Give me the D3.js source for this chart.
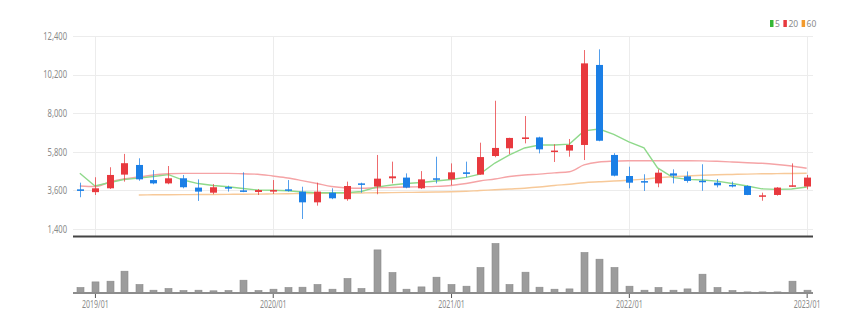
<!DOCTYPE html>
<html>
<head>
<meta charset="utf-8">
<script src="https://cdn.jsdelivr.net/npm/d3@7"></script>
<style>
  html, body { margin: 0; padding: 0; background: #fff; }
  svg { display: block; }
  text { font-family: "Noto Sans", "DejaVu Sans", sans-serif; fill: #8a8a8a; }
</style>
</head>
<body>
<svg id="chart" width="863" height="329"></svg>
<script>
// Monthly candles, 2018/12 .. 2023/01
const months = ["2018-12","2019-01","2019-02","2019-03","2019-04","2019-05","2019-06","2019-07","2019-08","2019-09","2019-10","2019-11",
  "2019-12","2020-01","2020-02","2020-03","2020-04","2020-05","2020-06","2020-07","2020-08","2020-09","2020-10","2020-11",
  "2020-12","2021-01","2021-02","2021-03","2021-04","2021-05","2021-06","2021-07","2021-08","2021-09","2021-10","2021-11",
  "2021-12","2022-01","2022-02","2022-03","2022-04","2022-05","2022-06","2022-07","2022-08","2022-09","2022-10","2022-11",
  "2022-12","2023-01"];
const open  = [3660,3500,3720,4500,5050,4190,4000,4290,3760,3470,3790,3600,3510,3530,3660,3530,2920,3470,3100,4000,3820,4290,4330,3720,
  4290,4230,4630,4500,5560,6000,6530,6620,5790,5870,6190,10750,5620,4420,4130,4000,4570,4400,4150,4040,3910,3850,3260,3340,3830,3820];
const high  = [4040,4350,4920,5680,5430,4760,4990,4480,4230,3960,3870,4630,3680,4190,4190,3810,4040,3720,4100,4040,5620,5240,4570,4700,
  5520,5140,5240,6320,8710,6600,7840,6660,6230,6530,11600,11640,5720,4950,4520,4800,4800,4680,5090,4250,4100,3890,3470,3790,5140,4480];
const low   = [3210,3340,3680,4100,4150,3950,3950,3720,3000,3380,3530,3500,3340,3400,3530,1970,2730,3100,3010,3470,3380,4000,3720,3680,
  4000,3890,4350,4490,5490,5670,6280,5710,5220,5520,5330,6400,4400,3720,3570,3780,4000,4040,3580,3770,3770,3330,3010,3300,3800,3660];
const close = [3570,3720,4480,5150,4230,4000,4290,3780,3530,3780,3700,3560,3620,3620,3580,2920,3530,3150,3850,3930,4270,4400,3760,4230,
  4230,4630,4540,5500,6020,6590,6620,5940,5870,6190,10840,6430,4440,4040,4060,4610,4440,4140,4100,3890,3850,3340,3320,3760,3890,4330];
const volume = [500,1060,1130,2130,800,230,400,200,230,170,200,1230,200,330,500,530,800,330,1400,400,4260,2000,330,560,
  1530,800,630,2500,4900,800,2030,530,330,360,4000,3330,2500,630,230,500,230,360,1830,500,200,60,60,60,1130,230];
const ma5  = [4574,3850,4050,4220,4300,4390,4500,4190,3990,3880,3810,3710,3620,3605,3580,3510,3470,3470,3470,3535,3790,3910,3990,4050,
  4135,4220,4340,4530,5160,5620,6020,6190,6190,6240,6990,7100,6790,6360,6020,4880,4340,4230,4190,4130,3990,3850,3690,3660,3680,3790];
const ma20 = [3850,3820,4080,4250,4360,4480,4545,4570,4570,4570,4570,4545,4520,4420,4310,4160,3990,3820,3740,3720,3750,3765,3790,3810,
  3830,3880,3990,4135,4250,4390,4480,4530,4600,4660,5050,5220,5265,5290,5290,5290,5290,5290,5285,5260,5220,5175,5145,5080,4990,4860];
const ma60 = [null,null,null,null,3340,3350,3355,3360,3365,3370,3375,3380,3390,3400,3410,3420,3430,3440,3445,3455,3465,3475,3485,3495,
  3505,3520,3550,3595,3635,3680,3725,3790,3880,3950,4040,4090,4135,4180,4240,4320,4380,4420,4460,4490,4510,4530,4545,4555,4565,4575];
const priceTicks = [1400,3600,5800,8000,10200,12400];
const yearTicks = ["2019-01","2020-01","2021-01","2022-01","2023-01"];
const legendItems = [{label:"5", color:"#35b835"},{label:"20", color:"#e8393e"},{label:"60", color:"#f39a2c"}];

const parseMonth = d3.timeParse("%Y-%m");
const fmtTick = d3.timeFormat("%Y/%m");
const dates = months.map(parseMonth);
const tickDates = yearTicks.map(parseMonth);

const svg = d3.select("#chart");
const left = 73, right = 813;
const x = d3.scaleTime()
  .domain([new Date(2018, 10, 17), new Date(2023, 0, 14)])
  .range([left, right]);
const y = d3.scaleLinear().domain([1400, 12400]).range([229, 36]);
const vy = d3.scaleLinear().domain([0, 5200]).range([292.5, 240.5]);

const UP = "#e8393e", DOWN = "#1b7fe6";

// squeeze text horizontally to a condensed look
function condense(sel, k) {
  sel.each(function () {
    const w = this.getComputedTextLength();
    d3.select(this).attr("textLength", w * k).attr("lengthAdjust", "spacingAndGlyphs");
  });
}

// horizontal grid
svg.append("g").selectAll("line").data(priceTicks).join("line")
  .attr("x1", left).attr("x2", right)
  .attr("y1", d => Math.round(y(d)) + 0.5).attr("y2", d => Math.round(y(d)) + 0.5)
  .attr("stroke", "#ececec").attr("stroke-width", 1);

// vertical grid at year ticks
svg.append("g").selectAll("line").data(tickDates).join("line")
  .attr("x1", d => Math.round(x(d)) + 0.5).attr("x2", d => Math.round(x(d)) + 0.5)
  .attr("y1", 36).attr("y2", 236)
  .attr("stroke", "#ececec").attr("stroke-width", 1);

// price axis labels
const yAxis = svg.append("g")
  .attr("transform", `translate(${left - 3},0)`)
  .call(d3.axisLeft(y).tickValues(priceTicks).tickSize(0).tickFormat(d3.format(",")));
yAxis.select(".domain").remove();
yAxis.selectAll("text").attr("font-size", 10).attr("fill", "#8a8a8a")
  .style("font-family", '"Noto Sans", sans-serif').call(condense, 0.76);

// moving averages
const line = curve => d3.line()
  .defined(d => d.v != null)
  .x(d => x(d.t)).y(d => y(d.v))
  .curve(curve);
[[ma60, "#f7c999", d3.curveMonotoneX], [ma20, "#f5a4a6", d3.curveMonotoneX], [ma5, "#8fd98b", d3.curveLinear]]
  .forEach(([vals, col, curve]) => {
    svg.append("path")
      .datum(vals.map((v, i) => ({ t: dates[i], v })))
      .attr("d", line(curve))
      .attr("fill", "none").attr("stroke", col).attr("stroke-width", 1.4);
  });

// candles
const bw = 7;
const candles = svg.append("g").selectAll("g").data(dates).join("g");
candles.append("line")
  .attr("x1", (d) => Math.round(x(d)) + 0.5).attr("x2", (d) => Math.round(x(d)) + 0.5)
  .attr("y1", (d, i) => y(high[i])).attr("y2", (d, i) => y(low[i]))
  .attr("stroke", (d, i) => close[i] >= open[i] ? UP : DOWN)
  .attr("stroke-opacity", 0.75).attr("stroke-width", 1);
candles.append("rect")
  .attr("x", d => Math.round(x(d)) + 0.5 - bw / 2)
  .attr("width", bw)
  .attr("y", (d, i) => y(Math.max(open[i], close[i])))
  .attr("height", (d, i) => Math.max(1.5, Math.abs(y(open[i]) - y(close[i]))))
  .attr("fill", (d, i) => close[i] >= open[i] ? UP : DOWN);

// bottom border of price panel
svg.append("line").attr("x1", left).attr("x2", right).attr("y1", 236.5).attr("y2", 236.5)
  .attr("stroke", "#444").attr("stroke-width", 2);

// volume bars
svg.append("g").selectAll("rect").data(dates).join("rect")
  .attr("x", d => Math.round(x(d)) + 0.5 - bw / 2)
  .attr("width", bw)
  .attr("y", (d, i) => vy(volume[i]))
  .attr("height", (d, i) => vy(0) - vy(volume[i]))
  .attr("fill", "#9c9c9c").attr("stroke", "#8a8a8a").attr("stroke-width", 0.6);

// volume baseline and time axis
svg.append("line").attr("x1", left).attr("x2", right).attr("y1", 293).attr("y2", 293)
  .attr("stroke", "#8c8c8c").attr("stroke-width", 2.2);
const xAxis = svg.append("g")
  .attr("transform", "translate(0,294)")
  .call(d3.axisBottom(x).tickValues(tickDates).tickSize(4).tickSizeOuter(0).tickPadding(3).tickFormat(fmtTick));
xAxis.select(".domain").remove();
xAxis.selectAll(".tick line").attr("stroke", "#555");
xAxis.selectAll("text").attr("font-size", 10).attr("fill", "#8a8a8a")
  .style("font-family", '"Noto Sans", sans-serif').call(condense, 0.7);

// legend
const lg = svg.append("g").attr("transform", "translate(770,20)");
let lx = 0;
legendItems.forEach(item => {
  lg.append("rect").attr("x", lx).attr("y", 0).attr("width", 3.5).attr("height", 7).attr("fill", item.color);
  const t = lg.append("text").attr("x", lx + 5).attr("y", 7).attr("font-size", 8.5)
    .attr("fill", "#8a8a8a").text(item.label);
  lx += 5 + t.node().getComputedTextLength() + 3.5;
});
</script>
</body>
</html>
